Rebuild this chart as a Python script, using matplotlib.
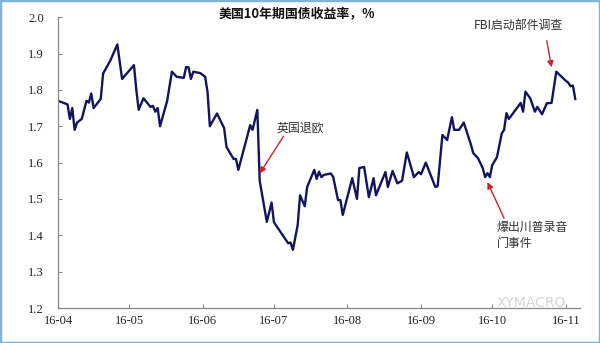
import matplotlib
matplotlib.use("Agg")
import matplotlib.pyplot as plt
import pandas as pd
from matplotlib.patches import Rectangle

plt.rcParams['font.family'] = ['Noto Sans CJK SC', 'DejaVu Sans']

dates = [
    "2016-04-01", "2016-04-05", "2016-04-06", "2016-04-07", "2016-04-08", "2016-04-09",
    "2016-04-11", "2016-04-13", "2016-04-14", "2016-04-15", "2016-04-16", "2016-04-19",
    "2016-04-20", "2016-04-23", "2016-04-26", "2016-04-28", "2016-05-03", "2016-05-04",
    "2016-05-05", "2016-05-07", "2016-05-10", "2016-05-11", "2016-05-12", "2016-05-13",
    "2016-05-14", "2016-05-17", "2016-05-19", "2016-05-21", "2016-05-24", "2016-05-25",
    "2016-05-26", "2016-05-27", "2016-05-28", "2016-05-31", "2016-06-02", "2016-06-03",
    "2016-06-04", "2016-06-07", "2016-06-10", "2016-06-11", "2016-06-14", "2016-06-15",
    "2016-06-16", "2016-06-21", "2016-06-22", "2016-06-24", "2016-06-25", "2016-06-28",
    "2016-06-30", "2016-07-01", "2016-07-07", "2016-07-08", "2016-07-09", "2016-07-11",
    "2016-07-12", "2016-07-14", "2016-07-15", "2016-07-18", "2016-07-19", "2016-07-20",
    "2016-07-21", "2016-07-22", "2016-07-25", "2016-07-26", "2016-07-28", "2016-07-29",
    "2016-07-30", "2016-08-03", "2016-08-05", "2016-08-06", "2016-08-08", "2016-08-10",
    "2016-08-12", "2016-08-13", "2016-08-17", "2016-08-18", "2016-08-20", "2016-08-22",
    "2016-08-24", "2016-08-26", "2016-08-29", "2016-08-31", "2016-09-01", "2016-09-03",
    "2016-09-07", "2016-09-08", "2016-09-10", "2016-09-12", "2016-09-14", "2016-09-15",
    "2016-09-17", "2016-09-19", "2016-09-22", "2016-09-23", "2016-09-25", "2016-09-27",
    "2016-09-28", "2016-09-29", "2016-09-30", "2016-10-01", "2016-10-03", "2016-10-05",
    "2016-10-06", "2016-10-07", "2016-10-08", "2016-10-13", "2016-10-14", "2016-10-15",
    "2016-10-17", "2016-10-19", "2016-10-20", "2016-10-22", "2016-10-24", "2016-10-26",
    "2016-10-28", "2016-11-01", "2016-11-02", "2016-11-03", "2016-11-04", "2016-11-05",
]
yields = [
    1.77, 1.76, 1.72, 1.75, 1.69, 1.71,
    1.72, 1.77, 1.765, 1.79, 1.75, 1.775,
    1.845, 1.88, 1.925, 1.83, 1.868, 1.80,
    1.745, 1.777, 1.753, 1.756, 1.74, 1.75,
    1.70, 1.77, 1.85, 1.836, 1.833, 1.863,
    1.862, 1.83, 1.85, 1.846, 1.836, 1.795,
    1.70, 1.735, 1.695, 1.643, 1.61, 1.61,
    1.58, 1.703, 1.69, 1.745, 1.55, 1.437,
    1.49, 1.436, 1.378, 1.38, 1.36, 1.428,
    1.51, 1.48, 1.533, 1.58, 1.555, 1.575,
    1.56, 1.566, 1.57, 1.56, 1.497, 1.497,
    1.456, 1.557, 1.50, 1.585, 1.588, 1.505,
    1.557, 1.51, 1.574, 1.533, 1.577, 1.543,
    1.55, 1.628, 1.56, 1.574, 1.568, 1.60,
    1.533, 1.535, 1.676, 1.662, 1.725, 1.69,
    1.69, 1.71, 1.65, 1.626, 1.612, 1.585,
    1.56, 1.571, 1.56, 1.593, 1.615, 1.68,
    1.69, 1.736, 1.72, 1.764, 1.74, 1.795,
    1.777, 1.74, 1.753, 1.733, 1.763, 1.764,
    1.85, 1.825, 1.82, 1.81, 1.812, 1.775,
]
tick_dates = ["2016-04-01", "2016-05-01", "2016-06-01", "2016-07-01",
              "2016-08-01", "2016-09-01", "2016-10-01", "2016-11-01"]
tick_labels = ["16-04", "16-05", "16-06", "16-07", "16-08", "16-09", "16-10", "16-11"]
y_ticks = [1.2, 1.3, 1.4, 1.5, 1.6, 1.7, 1.8, 1.9, 2.0]

title = "美国10年期国债收益率，%"
ann_brexit = "英国退欧"
ann_fbi = "FBI启动部件调查"
ann_trump = "爆出川普录音\n门事件"

x = pd.to_datetime(dates)
tx = pd.to_datetime(tick_dates)
T = pd.Timestamp

fig = plt.figure(figsize=(6.0, 3.43), dpi=100)
ax = fig.add_axes([0.0967, 0.102, 0.870, 0.848])

ax.plot(x, yields, color="#14145e", lw=1.7, solid_joinstyle="round")

ax.set_ylim(1.2, 2.0)
ax.set_yticks(y_ticks)
ax.set_yticklabels([f"{v:.1f}" for v in y_ticks], family="Liberation Serif", fontsize=9, color="#222222")
ax.set_xlim(tx[0], T("2016-11-07"))
ax.set_xticks(tx)
ax.set_xticklabels(tick_labels, family="Liberation Serif", fontsize=9, color="#222222")
ax.tick_params(axis="both", direction="in", length=3, color="#888888", width=0.8)
ax.tick_params(axis="y", pad=10)
ax.tick_params(axis="x", pad=5)
for s in ["top", "right"]:
    ax.spines[s].set_visible(False)
for s in ["left", "bottom"]:
    ax.spines[s].set_color("#888888")
    ax.spines[s].set_linewidth(0.9)

fig.text(0.494, 0.962, title, ha="center", va="center", fontsize=9.3,
         fontweight="bold", color="#111111")

red = "#c8262e"
arrow_kw = dict(arrowstyle="-|>", color=red, lw=1.0, mutation_scale=9,
                shrinkA=0, shrinkB=0)
txt_kw = dict(fontsize=8.6, color="#333333")

# Brexit
ax.text(T("2016-07-02"), 1.695, ann_brexit, ha="left", va="center", **txt_kw)
ax.annotate("", xy=(T("2016-06-25"), 1.57), xytext=(T("2016-07-05"), 1.672),
            arrowprops=arrow_kw)
# FBI
ax.text(T("2016-10-12"), 1.978, ann_fbi, ha="center", va="center", **txt_kw)
ax.annotate("", xy=(T("2016-10-26"), 1.862), xytext=(T("2016-10-24"), 1.935),
            arrowprops=arrow_kw)
# Trump tape
ax.text(T("2016-10-03"), 1.40, ann_trump, ha="left", va="center", linespacing=1.35, **txt_kw)
ax.annotate("", xy=(T("2016-09-29"), 1.546), xytext=(T("2016-10-06"), 1.447),
            arrowprops=arrow_kw)

fig.text(0.885, 0.118, "XYMACRO", ha="center", va="center", fontsize=10,
         color="#cfcfcf", alpha=0.85, family="DejaVu Sans")

fig.patches.append(Rectangle((0, 0), 1, 1, transform=fig.transFigure, fill=False,
                             edgecolor="#7fb4d8", lw=2.5))

fig.savefig("out.png", dpi=100)
